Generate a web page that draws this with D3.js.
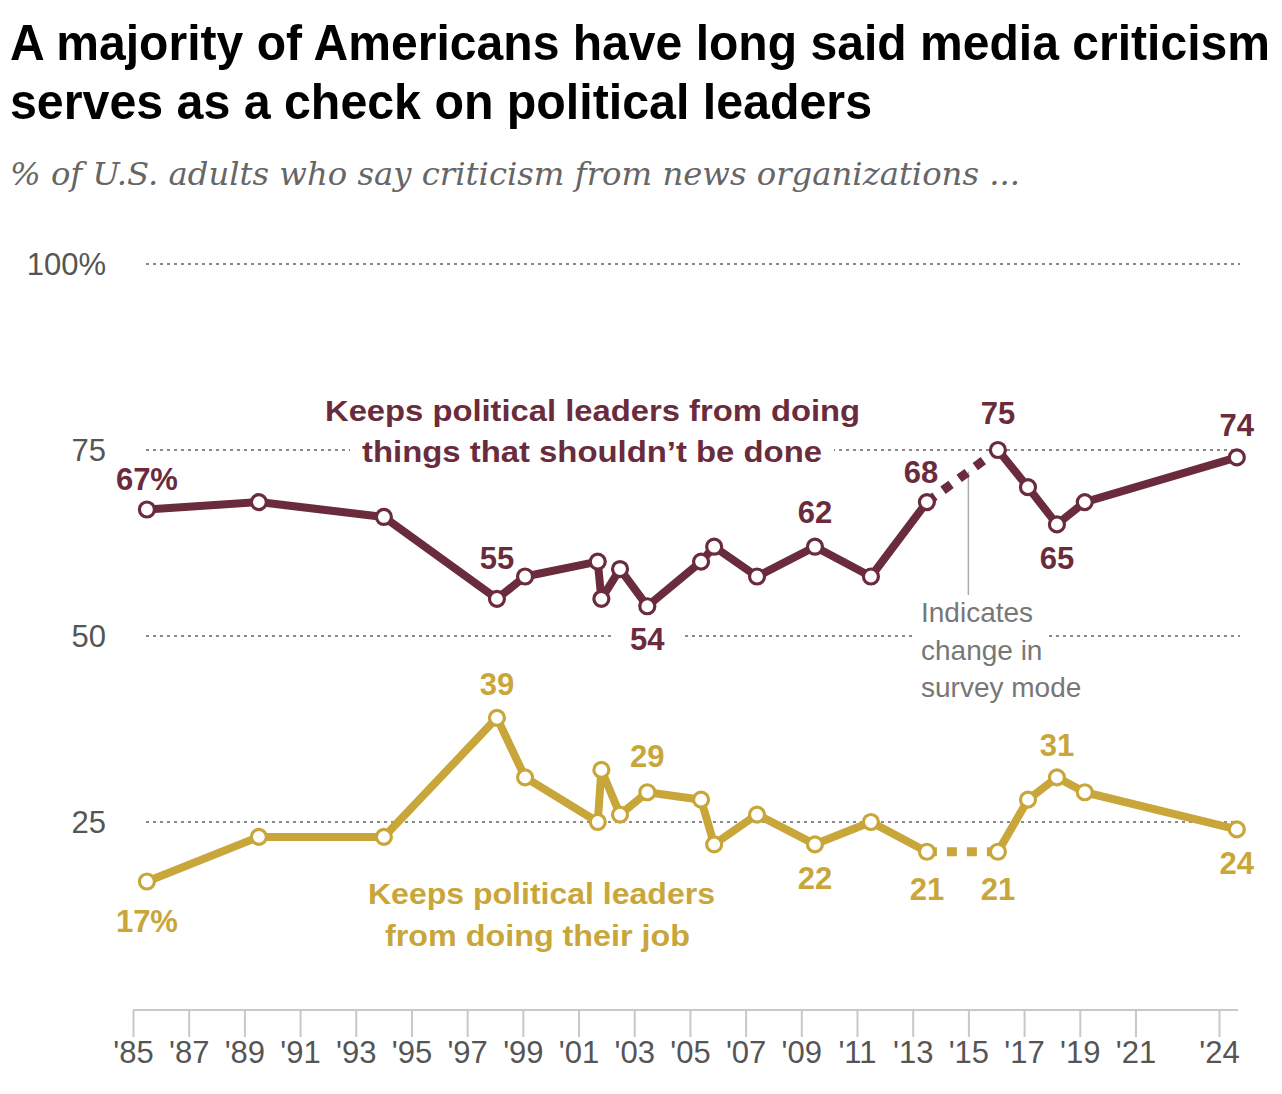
<!DOCTYPE html>
<html>
<head>
<meta charset="utf-8">
<script src="https://cdn.jsdelivr.net/npm/d3@7"></script>
<style>
  html, body { margin: 0; padding: 0; background: #fff; }
  svg { display: block; }
</style>
</head>
<body>
<svg id="chart" width="1282" height="1094"></svg>
<script>
// ---------- DATA ----------
const years = [1985.5, 1989.52, 1994.01, 1998.07, 1999.08, 2001.69, 2001.82, 2002.49, 2003.47, 2005.4, 2005.87, 2007.41, 2009.49, 2011.5, 2013.51, 2016.06, 2017.14, 2018.18, 2019.18, 2024.64];
const keepsFromBad = [67, 68, 66, 55, 58, 60, 55, 59, 54, 60, 62, 58, 62, 58, 68, 75, 70, 65, 68, 74];
const keepsFromJob = [17, 23, 23, 39, 31, 25, 32, 26, 29, 28, 22, 26, 22, 25, 21, 21, 28, 31, 29, 24];
const modeChangeAfterIndex = 14; // segment 14 -> 15 is dashed (survey mode change)
const surveyModeChangeYear = 2015;

const xTickYears = [1985, 1987, 1989, 1991, 1993, 1995, 1997, 1999, 2001, 2003, 2005, 2007, 2009, 2011, 2013, 2015, 2017, 2019, 2021, 2024];
const xTickLabels = ["'85", "'87", "'89", "'91", "'93", "'95", "'97", "'99", "'01", "'03", "'05", "'07", "'09", "'11", "'13", "'15", "'17", "'19", "'21", "'24"];
const yTickValues = [25, 50, 75, 100];
const yTickLabels = ["25", "50", "75", "100%"];

// labelled points: index into the series, and label text
const badLabelIdx = [0, 3, 8, 12, 14, 15, 17, 19];
const badLabelText = ["67%", "55", "54", "62", "68", "75", "65", "74"];
const jobLabelIdx = [0, 3, 8, 12, 14, 15, 17, 19];
const jobLabelText = ["17%", "39", "29", "22", "21", "21", "31", "24"];

const titleLines = ["A majority of Americans have long said media criticism", "serves as a check on political leaders"];
const subtitle = "% of U.S. adults who say criticism from news organizations ...";
const badSeriesName = ["Keeps political leaders from doing", "things that shouldn\u2019t be done"];
const jobSeriesName = ["Keeps political leaders", "from doing their job"];
const annotationLines = ["Indicates", "change in", "survey mode"];

// ---------- STYLE / LAYOUT ----------
const maroon = "#6a2c3c";
const gold = "#c8a63a";
const gridColor = "#8a8a8a";
const axisText = "#555";
// vertical offsets (px, baseline relative to the point) and dx for the value labels
const badLabelLayout = [[0, -20], [0, -30], [0, 44], [0, -24], [-6, -19], [0, -26], [0, 45], [0, -21]];
const jobLabelLayout = [[0, 50], [0, -23], [0, -25], [0, 45], [0, 48], [0, 48], [0, -21], [0, 45]];

const svg = d3.select("#chart");
const x = d3.scaleLinear().domain([1985, 2024]).range([133, 1219]);
const y = d3.scaleLinear().domain([0, 100]).range([1008, 264]);

// ---------- TITLE ----------
svg.append("text").attr("x", 10).attr("y", 60)
  .attr("font-family", "Liberation Sans, Arial, sans-serif").attr("font-weight", 700)
  .attr("font-size", 46).attr("fill", "#000")
  .attr("textLength", 1260).attr("lengthAdjust", "spacingAndGlyphs")
  .attr("transform", "translate(0,60) scale(1,1.08) translate(0,-60)")
  .text(titleLines[0]);
svg.append("text").attr("x", 10).attr("y", 119)
  .attr("font-family", "Liberation Sans, Arial, sans-serif").attr("font-weight", 700)
  .attr("font-size", 46).attr("fill", "#000")
  .attr("textLength", 862).attr("lengthAdjust", "spacingAndGlyphs")
  .attr("transform", "translate(0,119) scale(1,1.08) translate(0,-119)")
  .text(titleLines[1]);
svg.append("text").attr("x", 10).attr("y", 185)
  .attr("font-family", "DejaVu Serif, Georgia, serif").attr("font-style", "italic")
  .attr("font-size", 32).attr("fill", "#666")
  .attr("textLength", 1010).attr("lengthAdjust", "spacingAndGlyphs")
  .text(subtitle);

// ---------- GRID ----------
const grid = svg.append("g");
grid.selectAll("line").data(yTickValues).join("line")
  .attr("x1", 146).attr("x2", 1240)
  .attr("y1", d => y(d)).attr("y2", d => y(d))
  .attr("stroke", gridColor).attr("stroke-width", 2)
  .attr("stroke-dasharray", "3,4");

svg.append("g").selectAll("text").data(yTickValues).join("text")
  .attr("x", 106).attr("y", d => y(d) + 11)
  .attr("text-anchor", "end")
  .attr("font-family", "Liberation Sans, Arial, sans-serif")
  .attr("font-size", 31).attr("fill", axisText)
  .text((d, i) => yTickLabels[i]);

// ---------- X AXIS ----------
const xAxis = d3.axisBottom(x).tickValues(xTickYears)
  .tickFormat((d, i) => xTickLabels[i]).tickSize(27).tickPadding(4).tickSizeOuter(0);
const gx = svg.append("g").attr("transform", `translate(0, ${y(0) + 2})`).call(xAxis);
gx.select(".domain").attr("stroke", "#c8c8c8").attr("stroke-width", 2)
  .attr("d", `M133,0H1238`);
gx.selectAll(".tick line").attr("stroke", "#c8c8c8").attr("stroke-width", 2);
gx.selectAll(".tick text").attr("font-family", "Liberation Sans, Arial, sans-serif")
  .attr("font-size", 31).attr("fill", axisText).attr("dy", "0.71em");

// ---------- helper for white backgrounds ----------
function addBg(sel, padX, padY) {
  sel.each(function () {
    const b = this.getBBox();
    d3.select(this.parentNode).insert("rect", () => this)
      .attr("x", b.x - padX).attr("y", b.y - padY)
      .attr("width", b.width + 2 * padX).attr("height", b.height + 2 * padY)
      .attr("fill", "#fff");
  });
}

// ---------- SERIES ----------
const line = d3.line().x(d => x(d[0])).y(d => y(d[1]));

function drawSeries(vals, color, dash) {
  const pts = years.map((yr, i) => [yr, vals[i]]);
  const g = svg.append("g");
  const a = pts.slice(0, modeChangeAfterIndex + 1);
  const b = pts.slice(modeChangeAfterIndex + 1);
  const m = pts.slice(modeChangeAfterIndex, modeChangeAfterIndex + 2);
  [a, b].forEach(seg => g.append("path").attr("d", line(seg))
    .attr("fill", "none").attr("stroke", color).attr("stroke-width", 8)
    .attr("stroke-linejoin", "round"));
  g.append("path").attr("d", line(m)).attr("fill", "none")
    .attr("stroke", color).attr("stroke-width", 9).attr("stroke-dasharray", dash);
  g.selectAll("circle").data(pts).join("circle")
    .attr("cx", d => x(d[0])).attr("cy", d => y(d[1])).attr("r", 7.5)
    .attr("fill", "#fff").attr("stroke", color).attr("stroke-width", 3.2);
  return g;
}

// annotation line (behind series)
const i0 = modeChangeAfterIndex, i1 = modeChangeAfterIndex + 1;
const tMode = (surveyModeChangeYear - years[i0]) / (years[i1] - years[i0]);
const modeVal = keepsFromBad[i0] + tMode * (keepsFromBad[i1] - keepsFromBad[i0]);
svg.append("line").attr("x1", x(surveyModeChangeYear)).attr("x2", x(surveyModeChangeYear))
  .attr("y1", y(modeVal)).attr("y2", 595)
  .attr("stroke", "#aaa").attr("stroke-width", 1.5);

drawSeries(keepsFromBad, maroon, "10,10");
drawSeries(keepsFromJob, gold, "10,10");

// ---------- VALUE LABELS ----------
function drawLabels(idx, texts, layout, vals, color) {
  const g = svg.append("g");
  idx.forEach((i, k) => {
    const t = g.append("text")
      .attr("x", x(years[i]) + layout[k][0])
      .attr("y", y(vals[i]) + layout[k][1])
      .attr("text-anchor", "middle")
      .attr("font-family", "Liberation Sans, Arial, sans-serif").attr("font-weight", 700)
      .attr("font-size", 31).attr("fill", color).text(texts[k]);
    if (texts[k] === "54") addBg(t, 18, 2);
  });
}
drawLabels(badLabelIdx, badLabelText, badLabelLayout, keepsFromBad, maroon);
drawLabels(jobLabelIdx, jobLabelText, jobLabelLayout, keepsFromJob, gold);

// ---------- SERIES NAMES ----------
const sn = svg.append("g").attr("font-family", "Liberation Sans, Arial, sans-serif")
  .attr("font-weight", 700).attr("font-size", 30).attr("text-anchor", "middle");
sn.append("text").attr("x", 592.5).attr("y", 421).attr("fill", maroon)
  .attr("textLength", 535).attr("lengthAdjust", "spacingAndGlyphs").text(badSeriesName[0]);
const bad2 = sn.append("text").attr("x", 592).attr("y", 462).attr("fill", maroon)
  .attr("textLength", 460).attr("lengthAdjust", "spacingAndGlyphs").text(badSeriesName[1]);
addBg(bad2, 12, 0);
sn.append("text").attr("x", 541.5).attr("y", 904).attr("fill", gold)
  .attr("textLength", 347).attr("lengthAdjust", "spacingAndGlyphs").text(jobSeriesName[0]);
sn.append("text").attr("x", 537.5).attr("y", 946).attr("fill", gold)
  .attr("textLength", 305).attr("lengthAdjust", "spacingAndGlyphs").text(jobSeriesName[1]);

// ---------- ANNOTATION ----------
const an = svg.append("g").attr("font-family", "Liberation Sans, Arial, sans-serif")
  .attr("font-size", 28).attr("fill", "#777");
const anY = [622, 660, 697];
annotationLines.forEach((t, i) => {
  const el = an.append("text").attr("x", 921).attr("y", anY[i]).text(t);
  if (i === 1) addBg(el, 5, 0);
});
</script>
</body>
</html>
